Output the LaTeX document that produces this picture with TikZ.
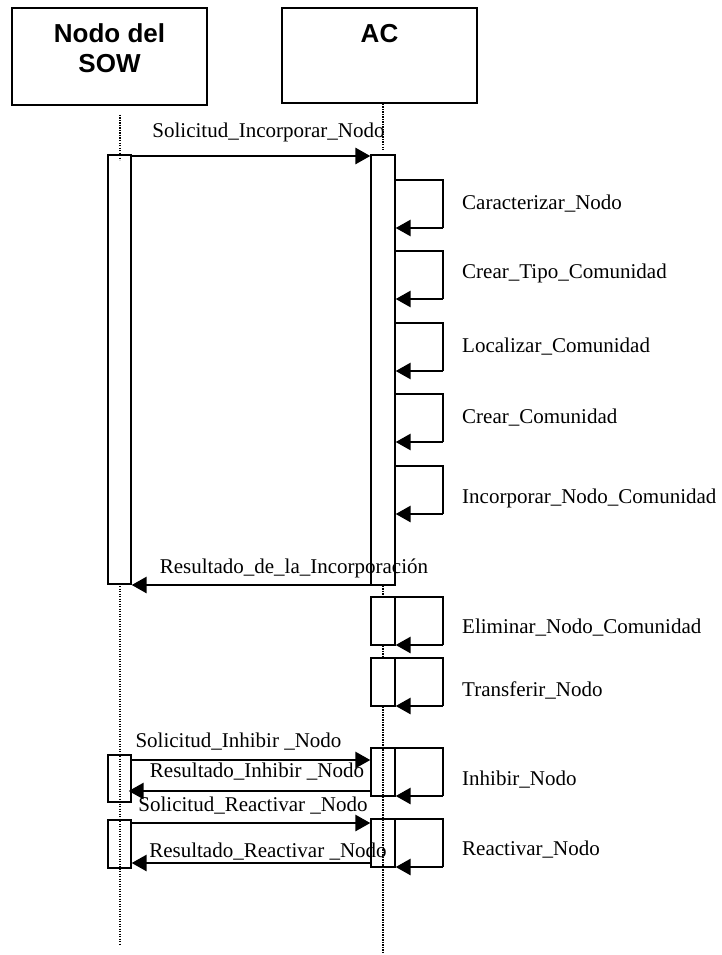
\documentclass[tikz,border=0pt]{standalone}
\usepackage{fontspec}
\setmainfont{Liberation Serif}
\newfontfamily\hdrfont{Liberation Sans}
\usetikzlibrary{arrows.meta}
\begin{document}
\begin{tikzpicture}[x=1pt,y=-1pt,
 hdrbox/.style={draw,line width=1.3pt,minimum width=195pt,minimum height=97pt,inner sep=0pt},
 hdrtxt/.style={font=\hdrfont\bfseries\fontsize{26}{30}\selectfont,anchor=base,inner sep=0pt},
 act/.style={draw,line width=1.3pt,fill=white,minimum width=24pt,inner sep=0pt},
 life/.style={line width=2pt,dash pattern=on 1.4pt off 1.1pt},
 msg/.style={line width=2.8pt,-{Triangle[length=15pt,width=16pt]}},
 loopline/.style={line width=1.3pt},
 lbl/.style={font=\fontsize{21}{24}\selectfont,anchor=base,inner sep=0pt},
 rlbl/.style={lbl,anchor=base west}]
\useasboundingbox (0,0) rectangle (722,955);

% headers
\node[hdrbox] (h1) at (109.5,56.5) {};
\node[hdrbox,minimum height=95pt] (h2) at (379.5,55.5) {};
\node[hdrtxt] (t1) at (109.5,43) {Nodo del};
\node[hdrtxt] (t2) at (109.5,73) {SOW};
\node[hdrtxt] (t3) at (379.5,43) {AC};

% activation boxes
\node[act,minimum width=23pt,minimum height=429pt] (sa1) at (119.5,369.5) {};
\node[act,minimum height=430pt] (aa1) at (383,370) {};
\node[act,minimum height=48pt] (aa2) at (383,621) {};
\node[act,minimum height=48pt] (aa3) at (383,682) {};
\node[act,minimum width=23pt,minimum height=47pt] (sa2) at (119.5,778.5) {};
\node[act,minimum height=48pt] (aa4) at (383,772) {};
\node[act,minimum width=23pt,minimum height=48pt] (sa3) at (119.5,844) {};
\node[act,minimum height=48pt] (aa5) at (383,843) {};

% lifeline coordinates
\coordinate (s0) at (120,115);
\coordinate (s1) at (120,160);
\coordinate (s2) at (120,586);
\coordinate (s3) at (120,944);
\coordinate (a0) at (383,104);
\coordinate (a1) at (383,150);
\coordinate (a2) at (383,953);
\draw[life] (s0) -- (s1);
\draw[life] (s2) -- (s3);
\draw[life] (a0) -- (a1);
\draw[life] (aa1.south) -- (aa2.north);
\draw[life] (aa2.south) -- (aa3.north);
\draw[life] (aa3.south) -- (a2);

% messages
\coordinate (m1) at (0,156);
\coordinate (m2) at (0,585);
\coordinate (m3) at (0,760);
\coordinate (m4) at (0,791);
\coordinate (m5) at (0,823);
\coordinate (m6) at (0,863);
\draw[msg] (sa1.east |- m1) -- (aa1.west |- m1);
\draw[msg] (aa1.west |- m2) -- (sa1.east |- m2);
\draw[msg] (sa2.east |- m3) -- (aa4.west |- m3);
\draw[msg] (aa4.west |- m4) -- ([xshift=-3pt]sa2.east |- m4);
\draw[msg] (sa3.east |- m5) -- (aa5.west |- m5);
\draw[msg] (aa5.west |- m6) -- (sa3.east |- m6);

\node[lbl] (l1) at (268.5,137) {Solicitud\_Incorporar\_Nodo};
\node[lbl] (l2) at (294,573) {Resultado\_de\_la\_Incorporación};
\node[lbl] (l3) at (238.5,747) {Solicitud\_Inhibir \_Nodo};
\node[lbl] (l4) at (257,777) {Resultado\_Inhibir \_Nodo};
\node[lbl] (l5) at (253,811) {Solicitud\_Reactivar \_Nodo};
\node[lbl] (l6) at (268,857) {Resultado\_Reactivar \_Nodo};

% self loops
\foreach \n/\bx/\ty/\by/\txt/\bl in {
  1/aa1/180/228/Caracterizar\_Nodo/209,
  2/aa1/251/299/Crear\_Tipo\_Comunidad/278,
  3/aa1/323/371/Localizar\_Comunidad/352,
  4/aa1/394/442/Crear\_Comunidad/423,
  5/aa1/466/514/Incorporar\_Nodo\_Comunidad/503,
  6/aa2/597/645/Eliminar\_Nodo\_Comunidad/633,
  7/aa3/658/706/Transferir\_Nodo/696,
  8/aa4/748/796/Inhibir\_Nodo/785,
  9/aa5/819/867/Reactivar\_Nodo/855}{
  \coordinate (ct\n) at (443,\ty);
  \coordinate (cb\n) at (443,\by);
  \draw[loopline] (\bx.east |- ct\n) -- (ct\n) -- (cb\n);
  \draw[msg] (cb\n) -- (\bx.east |- cb\n);
  \node[rlbl] (r\n) at (462,\bl) {\txt};
}
\end{tikzpicture}
\end{document}
